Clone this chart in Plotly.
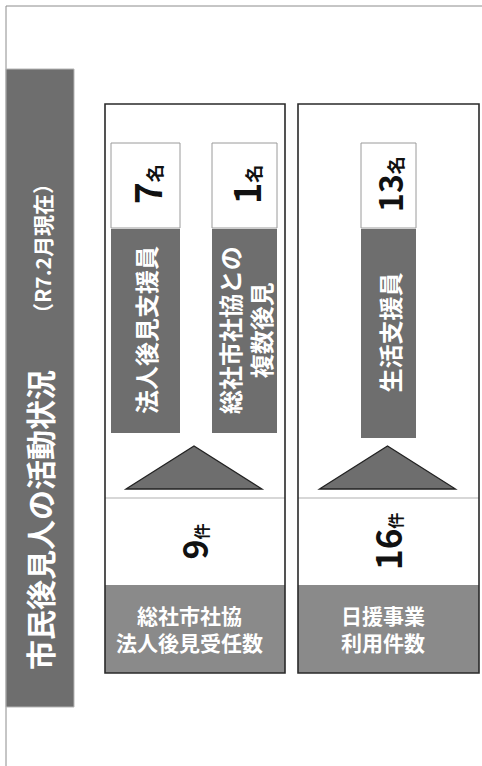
import plotly.graph_objects as go

# ---- data ----
title_text = "市民後見人の活動状況"
subtitle_text = "（R7.2月現在）"
case_labels = ["総社市社協<br>法人後見受任数", "日援事業<br>利用件数"]
case_counts = [9, 16]
case_unit = "件"
staff_labels = ["法人後見支援員", "総社市社協との<br>複数後見", "生活支援員"]
staff_counts = [7, 1, 13]
staff_unit = "名"
staff_panel = [0, 0, 1]  # which panel each staff item belongs to

# ---- layout geometry (pixels, y downward) ----
W, H = 482, 766
FONT = "Noto Sans CJK JP"
DARK = "#6e6e6e"
MID = "#8a8a8a"

panel_x = [(105, 285), (298, 479)]
panel_top, panel_bot = 104, 673
num_top, num_bot = 498, 585
tri_apex_y, tri_base_y = 446, 489
tri_half = 69
staff_x = [(111, 180), (212, 277), (361, 416)]
staff_white = (143, 228)
staff_gray_bot = [433, 433, 438]
num_font = [34, 35]
staff_num_font = [37, 36, 32]

shapes = []
annotations = []

# outer frame
shapes.append(dict(type="rect", x0=6, y0=6, x1=W + 10, y1=H + 10,
                   line=dict(color="#8c8c8c", width=1), fillcolor="rgba(0,0,0,0)", layer="below"))
# title bar
shapes.append(dict(type="rect", x0=6, y0=69, x1=74, y1=707,
                   line=dict(color="#b5b5b5", width=1), fillcolor=DARK, layer="below"))
annotations.append(dict(x=39, y=520, text="<b>" + title_text + "</b>", textangle=-90,
                        showarrow=False, font=dict(family=FONT, size=30, color="white"),
                        xanchor="center", yanchor="middle"))
annotations.append(dict(x=42, y=249, text="<b>" + subtitle_text + "</b>", textangle=-90,
                        showarrow=False, font=dict(family=FONT, size=21, color="white"),
                        xanchor="center", yanchor="middle"))

for i, (x0, x1) in enumerate(panel_x):
    cx = (x0 + x1) / 2
    # bottom label box
    shapes.append(dict(type="rect", x0=x0, y0=num_bot, x1=x1, y1=panel_bot,
                       line=dict(width=0), fillcolor=MID))
    # separator line
    shapes.append(dict(type="line", x0=x0, y0=num_top, x1=x1, y1=num_top,
                       line=dict(color="#b0b0b0", width=1.2)))
    # triangle
    shapes.append(dict(type="path",
                       path=f"M {cx - tri_half},{tri_base_y} L {cx - 1},{tri_apex_y} L {cx + tri_half - 2},{tri_base_y} Z",
                       line=dict(color="#222222", width=1.3), fillcolor=DARK))
    # panel border
    shapes.append(dict(type="rect", x0=x0, y0=panel_top, x1=x1, y1=panel_bot,
                       line=dict(color="#2a2a2a", width=1.6), fillcolor="rgba(0,0,0,0)"))
    # counts
    annotations.append(dict(x=cx - 2, y=(num_top + num_bot) / 2,
                            text=f"<b>{case_counts[i]}<span style='font-size:16px'>{case_unit}</span></b>",
                            textangle=-90, showarrow=False,
                            font=dict(family=FONT, size=num_font[i], color="#111111"),
                            xanchor="center", yanchor="middle"))
    annotations.append(dict(x=cx - 6, y=(num_bot + panel_bot) / 2 - 1,
                            text="<b>" + case_labels[i] + "</b>", showarrow=False, align="center",
                            font=dict(family=FONT, size=21, color="white"),
                            xanchor="center", yanchor="middle"))

for j, (x0, x1) in enumerate(staff_x):
    cx = (x0 + x1) / 2
    shapes.append(dict(type="rect", x0=x0, y0=staff_white[0], x1=x1, y1=staff_white[1],
                       line=dict(color="#9a9a9a", width=1), fillcolor="white"))
    shapes.append(dict(type="rect", x0=x0, y0=staff_white[1] + 1, x1=x1, y1=staff_gray_bot[j],
                       line=dict(width=0), fillcolor=DARK))
    annotations.append(dict(x=cx, y=(staff_white[0] + staff_white[1]) / 2 - 1,
                            text=f"<b>{staff_counts[j]}<span style='font-size:18px'>{staff_unit}</span></b>",
                            textangle=-90, showarrow=False,
                            font=dict(family=FONT, size=staff_num_font[j], color="#111111"),
                            xanchor="center", yanchor="middle"))
    annotations.append(dict(x=cx, y=(staff_white[1] + staff_gray_bot[j]) / 2,
                            text="<b>" + staff_labels[j] + "</b>", textangle=-90,
                            showarrow=False, align="center",
                            font=dict(family=FONT, size=24, color="white"),
                            xanchor="center", yanchor="middle"))

fig = go.Figure()
fig.update_layout(
    width=W, height=H, margin=dict(l=0, r=0, t=0, b=0),
    paper_bgcolor="white", plot_bgcolor="white",
    xaxis=dict(range=[0, W], visible=False, fixedrange=True),
    yaxis=dict(range=[H, 0], visible=False, fixedrange=True),
    shapes=shapes, annotations=annotations, showlegend=False,
)
fig.write_html("out.html", config={"displayModeBar": False},
               post_script="document.body.style.margin='0';document.body.style.overflow='hidden';")
